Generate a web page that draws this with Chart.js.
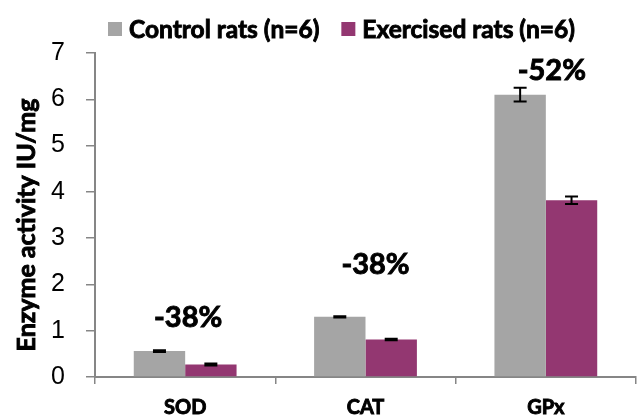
<!DOCTYPE html>
<html>
<head>
<meta charset="utf-8">
<script src="https://cdn.jsdelivr.net/npm/chart.js@4/dist/chart.umd.min.js"></script>
<style>
  html, body { margin: 0; padding: 0; background: #ffffff; }
  #wrap { width: 643px; height: 416px; position: relative; }
</style>
</head>
<body>
<div id="wrap"><canvas id="c" width="643" height="416"></canvas></div>
<script>
// Antioxidant enzyme activity, control vs exercised rats
const categories = ['SOD', 'CAT', 'GPx'];
const controlValues = [0.56, 1.30, 6.10];
const exercisedValues = [0.27, 0.81, 3.82];
const controlErrors = [0.02, 0.015, 0.15];
const exercisedErrors = [0.02, 0.015, 0.08];
const changeLabels = ['-38%', '-38%', '-52%'];
const yTicks = [0, 1, 2, 3, 4, 5, 6, 7];
const yTitle = 'Enzyme activity IU/mg';

const GRAY = '#a5a5a5';
const PURPLE = '#933771';
const AXIS = '#868686';
const BOLD_FONT = 'Lato';
const BOLD_WEIGHT = 'bold';
const HEAVY = 0.9; // extra stroke to give the bold text more weight

function heavyText(ctx, text, x, y) {
  ctx.fillText(text, x, y);
  ctx.lineWidth = HEAVY;
  ctx.strokeStyle = ctx.fillStyle;
  ctx.strokeText(text, x, y);
}

// Draws +/- error whiskers on each bar, positioned through the chart scales
const errorBars = {
  id: 'errorBars',
  afterDatasetsDraw(chart, args, opts) {
    const ctx = chart.ctx;
    const y = chart.scales.y;
    chart.data.datasets.forEach((ds, di) => {
      const meta = chart.getDatasetMeta(di);
      const errs = opts.errors[di];
      meta.data.forEach((bar, i) => {
        const v = ds.data[i];
        const e = errs[i];
        const top = y.getPixelForValue(v + e);
        const bot = y.getPixelForValue(v - e);
        const x = bar.x;
        const half = opts.capWidth / 2;
        ctx.save();
        ctx.strokeStyle = '#000000';
        ctx.lineWidth = 2;
        ctx.beginPath();
        ctx.moveTo(x, top); ctx.lineTo(x, bot);
        ctx.moveTo(x - half, top); ctx.lineTo(x + half, top);
        ctx.moveTo(x - half, bot); ctx.lineTo(x + half, bot);
        ctx.stroke();
        ctx.restore();
      });
    });
  }
};

// Percentage change text above each category group
const changeText = {
  id: 'changeText',
  afterDatasetsDraw(chart, args, opts) {
    const ctx = chart.ctx;
    const x = chart.scales.x;
    const y = chart.scales.y;
    ctx.save();
    ctx.fillStyle = '#000000';
    ctx.font = BOLD_WEIGHT + ' 29px ' + BOLD_FONT;
    ctx.textAlign = 'center';
    ctx.textBaseline = 'middle';
    opts.labels.forEach((t, i) => {
      const px = x.getPixelForValue(i) + opts.dx[i];
      const py = y.getPixelForValue(opts.at[i]);
      heavyText(ctx, t, px, py);
    });
    ctx.restore();
  }
};

// Legend row built from the datasets, plus the rotated value-axis title
const frameText = {
  id: 'frameText',
  afterDraw(chart, args, opts) {
    const ctx = chart.ctx;
    const y = chart.scales.y;
    ctx.save();
    ctx.font = BOLD_WEIGHT + ' 24.5px ' + BOLD_FONT;
    ctx.textBaseline = 'middle';
    ctx.textAlign = 'left';
    let cx = opts.legendLeft;
    const cy = opts.legendY;
    chart.data.datasets.forEach((ds) => {
      ctx.fillStyle = ds.backgroundColor;
      ctx.fillRect(cx, cy - 7, 14, 14);
      cx += 14 + 7;
      ctx.fillStyle = '#000000';
      heavyText(ctx, ds.label, cx, cy + 1);
      cx += ctx.measureText(ds.label).width + 22;
    });
    ctx.restore();

    ctx.save();
    ctx.font = BOLD_WEIGHT + ' 25px ' + BOLD_FONT;
    ctx.fillStyle = '#000000';
    ctx.textAlign = 'center';
    ctx.textBaseline = 'middle';
    ctx.translate(opts.titleX, (y.top + y.bottom) / 2 + opts.titleShift);
    ctx.rotate(-Math.PI / 2);
    heavyText(ctx, opts.title, 0, 0);
    ctx.restore();
  }
};

new Chart(document.getElementById('c'), {
  type: 'bar',
  data: {
    labels: categories,
    datasets: [
      { label: 'Control rats (n=6)', data: controlValues, backgroundColor: GRAY,
        borderWidth: 0, categoryPercentage: 0.57, barPercentage: 1.0 },
      { label: 'Exercised rats (n=6)', data: exercisedValues, backgroundColor: PURPLE,
        borderWidth: 0, categoryPercentage: 0.57, barPercentage: 1.0 }
    ]
  },
  options: {
    responsive: false,
    animation: false,
    devicePixelRatio: 1,
    layout: { padding: { top: 53, right: 7, bottom: 0, left: 0 } },
    plugins: {
      legend: { display: false },
      tooltip: { enabled: false },
      errorBars: { errors: [controlErrors, exercisedErrors], capWidth: 13 },
      changeText: { labels: changeLabels, at: [1.28, 2.42, 6.62], dx: [3, 10, 6] },
      frameText: { legendLeft: 108, legendY: 29, title: yTitle, titleX: 27, titleShift: 10 }
    },
    scales: {
      x: {
        grid: { display: true, drawOnChartArea: false, offset: true, color: AXIS,
                lineWidth: 1.5, tickLength: 7 },
        border: { display: true, color: AXIS, width: 2 },
        ticks: { color: '#000000', padding: 12, textStrokeColor: '#000000', textStrokeWidth: HEAVY,
                 font: { family: BOLD_FONT, size: 20, weight: BOLD_WEIGHT } },
        afterFit(scale) { scale.height = 39; }
      },
      y: {
        min: 0, max: 7,
        afterBuildTicks(scale) { scale.ticks = yTicks.map(v => ({ value: v })); },
        grid: { display: true, drawOnChartArea: false, color: AXIS, lineWidth: 1.5,
                tickLength: 9 },
        border: { display: true, color: AXIS, width: 2 },
        ticks: { color: '#000000', padding: 21,
                 font: { family: 'Liberation Sans', size: 25 } },
        title: { display: false },
        afterFit(scale) { scale.width = 95; }
      }
    }
  },
  plugins: [errorBars, changeText, frameText]
});
</script>
</body>
</html>
